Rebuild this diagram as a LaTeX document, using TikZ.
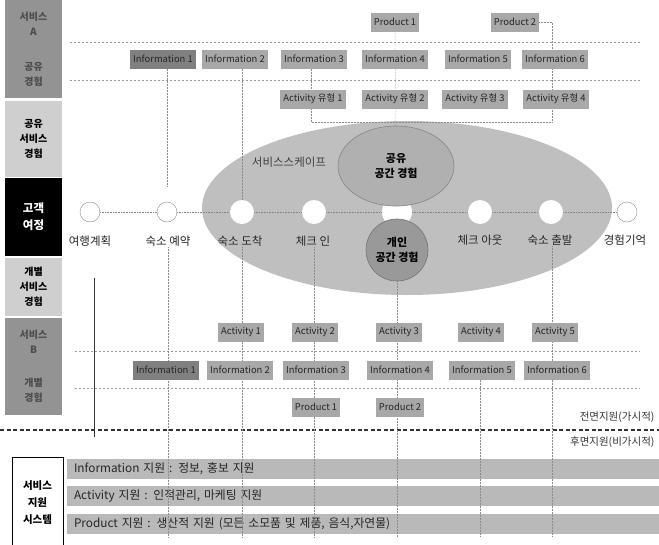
\documentclass[tikz,border=0pt]{standalone}
\usepackage{fontspec}
\setmainfont{Noto Sans CJK KR}
\usetikzlibrary{shapes.geometric,backgrounds}
\pgfdeclarelayer{bgzero}
\pgfdeclarelayer{bgone}
\pgfsetlayers{bgzero,bgone,main}
\tikzset{
  gbox/.style={fill=gray!68, text=black!85, inner xsep=3pt, inner ysep=0pt, minimum height=19pt, font=\fontsize{9.4}{10}\selectfont},
  dbox/.style={gbox, fill=gray!100},
  colbox/.style={minimum width=57pt, inner sep=0pt, align=center, font=\fontsize{10}{15}\selectfont\bfseries},
  jc/.style={circle, draw=gray!90, fill=white, minimum size=20pt, inner sep=0pt},
  jw/.style={circle, fill=white, minimum size=24pt, inner sep=0pt},
  jl/.style={font=\fontsize{11.5}{13}\selectfont, text=black!85, inner sep=1pt},
  vl/.style={gray!90, densely dotted, line width=0.5pt},
  sepl/.style={gray!80, dashed, dash pattern=on 2pt off 2pt, line width=0.5pt},
  barbox/.style={fill=gray!55, minimum width=592pt, minimum height=20pt, text width=578pt, align=left, inner xsep=7pt, inner ysep=0pt, font=\fontsize{11.8}{13}\selectfont, text=black!85},
}
\begin{document}
\begin{tikzpicture}[x=1pt,y=-1pt]
\useasboundingbox (0,0) rectangle (659,544);

% ---------- left column ----------
\node[colbox, fill=gray!85, minimum height=98pt, text=black!70] (ca) at (33.5,49) {서비스\\A\\[20pt]공유\\경험};
\node[colbox, fill=gray!38, minimum height=76pt] (cs) at (33.5,139) {공유\\서비스\\경험};
\node[colbox, fill=black, minimum height=78pt, text=white, font=\fontsize{11.5}{17}\selectfont\bfseries] (cj) at (33.5,217) {고객\\여정};
\node[colbox, fill=gray!38, minimum height=58pt] (ci) at (33.5,287) {개별\\서비스\\경험};
\node[colbox, fill=gray!85, minimum height=97pt, text=black!70] (cb) at (33.5,366.5) {서비스\\B\\[18pt]개별\\경험};

% ---------- big servicescape ellipse ----------
\begin{pgfonlayer}{bgzero}
\node[ellipse, fill=gray!50, minimum width=410pt, minimum height=174pt, inner sep=0pt] (scape) at (407,208) {};
\end{pgfonlayer}
\node[font=\fontsize{11.5}{13}\selectfont, text=black!75] (scapelbl) at (289,162) {서비스스케이프};

% ---------- top rows ----------
\node[gbox] (tp1) at (395,22) {Product 1};
\node[gbox] (tp2) at (515,22) {Product 2};

\node[dbox] (ti1) at (163,59) {Information 1};
\node[gbox] (ti2) at (235,59) {Information 2};
\node[gbox] (ti3) at (314,59) {Information 3};
\node[gbox] (ti4) at (395,59) {Information 4};
\node[gbox] (ti5) at (478,59) {Information 5};
\node[gbox] (ti6) at (555,59) {Information 6};

\node[gbox] (ta1) at (313,99) {Activity 유형 1};
\node[gbox] (ta2) at (395,99) {Activity 유형 2};
\node[gbox] (ta3) at (475,99) {Activity 유형 3};
\node[gbox] (ta4) at (556,99) {Activity 유형 4};

% ---------- journey ----------
\node[jc] (j1) at (90,212) {};
\node[jc] (j2) at (167,212) {};
\node[jw] (j3) at (242,212) {};
\node[jw] (j4) at (314,212) {};
\node[jw, minimum size=30pt] (jm) at (397,212) {};
\node[jw] (j5) at (480,212) {};
\node[jw] (j6) at (551,212) {};
\node[jc] (j7) at (627,212) {};

\node[ellipse, fill=gray!62, draw=gray!95, line width=0.6pt, minimum width=116pt, minimum height=80pt, inner sep=0pt, align=center, font=\fontsize{11}{15}\selectfont\bfseries] (shared) at (396,166) {공유\\공간 경험};
\node[circle, fill=gray!80, draw=gray!110, line width=0.6pt, minimum size=62pt, inner sep=0pt, align=center, font=\fontsize{11}{15}\selectfont\bfseries] (indiv) at (397,250) {개인\\공간 경험};

\node[jl] (l1) at (90,241) {여행계획};
\node[jl] (l2) at (168,241) {숙소 예약};
\node[jl] (l3) at (240,241) {숙소 도착};
\node[jl] (l4) at (313,241) {체크 인};
\node[jl] (l5) at (480,240) {체크 아웃};
\node[jl] (l6) at (550,240) {숙소 출발};
\node[jl] (l7) at (625,240) {경험기억};

% ---------- bottom rows ----------
\node[gbox] (ba1) at (241,332) {Activity 1};
\node[gbox] (ba2) at (315,332) {Activity 2};
\node[gbox] (ba3) at (399,332) {Activity 3};
\node[gbox] (ba4) at (481,332) {Activity 4};
\node[gbox] (ba5) at (555,332) {Activity 5};

\node[dbox] (bi1) at (166,370) {Information 1};
\node[gbox] (bi2) at (240,370) {Information 2};
\node[gbox] (bi3) at (316,370) {Information 3};
\node[gbox] (bi4) at (400,370) {Information 4};
\node[gbox] (bi5) at (482,370) {Information 5};
\node[gbox] (bi6) at (557,370) {Information 6};

\node[gbox] (bp1) at (316,407) {Product 1};
\node[gbox] (bp2) at (400,407) {Product 2};

\node[font=\fontsize{10.5}{11}\selectfont, text=black!80, anchor=east] (front) at (658,417) {전면지원(가시적)};
\node[font=\fontsize{10.5}{11}\selectfont, text=black!80, anchor=east] (back) at (658,442) {후면지원(비가시적)};

% ---------- support system ----------
\node[draw=black, line width=0.9pt, fill=white, minimum width=51pt, minimum height=92pt, inner sep=0pt, align=center, font=\fontsize{10.5}{17}\selectfont\bfseries] (sys) at (37.5,503) {서비스\\지원\\시스템};
\begin{pgfonlayer}{bgzero}
\node[barbox] (bar1) at (363,469) {Information 지원 : 정보, 홍보 지원};
\node[barbox] (bar2) at (363,496) {Activity 지원 : 인적관리, 마케팅 지원};
\node[barbox] (bar3) at (363,524) {Product 지원 : 생산적 지원 (모든 소모품 및 제품, 음식,자연물)};
\end{pgfonlayer}

% ---------- coordinates ----------
\coordinate (t1e) at (167,186);
\coordinate (tl) at (311,122);
\coordinate (tr) at (552,122);
\coordinate (bot) at (0,537);
\coordinate (s1) at (94,278);
\coordinate (s2) at (94,437);
\coordinate (sa1) at (70,42);  \coordinate (sa2) at (640,42);
\coordinate (sb1) at (70,80);  \coordinate (sb2) at (640,80);
\coordinate (sc1) at (75,351); \coordinate (sc2) at (640,351);
\coordinate (sd1) at (75,388); \coordinate (sd2) at (640,388);
\coordinate (fb1) at (0,430);  \coordinate (fb2) at (659,430);

% ---------- connectors ----------
\begin{pgfonlayer}{bgone}
\draw[gray!95, densely dotted, line width=0.6pt] (j1) -- (j2) -- (j3) -- (j4) -- (jm) -- (j5) -- (j6) -- (j7);
% separators
\draw[sepl] (sa1) -- (sa2);
\draw[sepl] (sb1) -- (sb2);
\draw[sepl] (sc1) -- (sc2);
\draw[sepl] (sd1) -- (sd2);
\draw[black!80, line width=1.1pt, dash pattern=on 4pt off 2.5pt] (fb1) -- (fb2);
% top verticals
\draw[vl] (ti1.south -| t1e) -- (t1e);
\draw[vl] (ti2.south -| j3) -- (j3.north);
\draw[vl] (ti3.south -| tl) -- (tl) -- (tr) -- (tr |- tp2.east) -- (tp2.east);
\draw[vl] (tp1.south) -- (shared.north);
% bottom verticals
\draw[black!80, line width=0.6pt] (s1) -- (s2);
\draw[vl] (l2.south) -- (l2.south |- bot);
\draw[vl] (j3.south |- l3.south) -- (j3.south |- bot);
\draw[vl] (j4.south |- l4.south) -- (j4.south |- bot);
\draw[vl] (indiv.south) -- (indiv.south |- bot);
\draw[vl] (bi5.south -| j5) -- (j5 |- bot);
\draw[vl] (l6.south -| tr) -- (tr |- bot);
\end{pgfonlayer}
\end{tikzpicture}
\end{document}
